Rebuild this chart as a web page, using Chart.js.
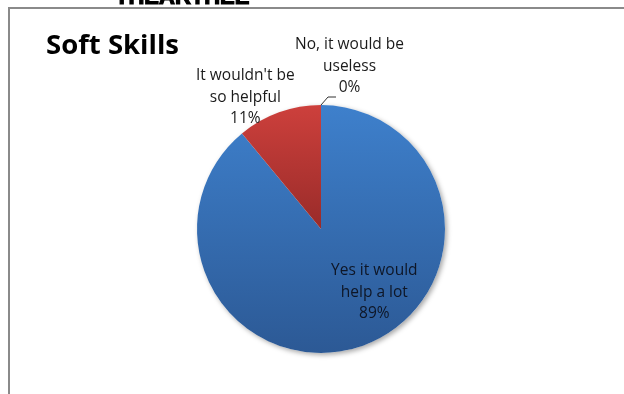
<!DOCTYPE html>
<html>
<head>
<meta charset="utf-8">
<script src="https://cdn.jsdelivr.net/npm/chart.js@4/dist/chart.umd.min.js"></script>
<style>
  html, body { margin: 0; padding: 0; background: #fff; }
  #wrap { position: relative; width: 624px; height: 394px; overflow: hidden; }
  #frame {
    position: absolute; left: 8px; top: 7px; right: -4px; bottom: -4px;
    border-left: 2px solid #8a8a8a; border-top: 2px solid #8a8a8a;
  }
  #chart { position: absolute; left: 0; top: 0; }
</style>
</head>
<body>
<div id="wrap">
  <div id="frame"></div>
  <canvas id="chart" width="624" height="394"></canvas>
</div>
<script>
const chartTitle = 'Soft Skills';
const pageHeading = 'THEARTHEE';
const categories = ['Yes it would help a lot', "It wouldn't be so helpful", 'No, it would be useless'];
const labelLines = [['Yes it would', 'help a lot'], ["It wouldn't be", 'so helpful'], ['No, it would be', 'useless']];
const shares = [89, 11, 0];

// where each data label sits, relative to the pie centre, in radius units
const labelSpots = [
  { dx: 0.43, dy: 0.51 },
  { dx: -0.61, dy: -1.06 },
  { dx: 0.23, dy: -1.31, leader: true },
];

const labelFont = '15.5px "Open Sans"';
const lineGap = 21.5;

function sliceFill(c) {
  const { ctx, chartArea } = c.chart;
  if (!chartArea) return c.dataIndex === 1 ? '#c0504d' : '#4f81bd';
  const top = chartArea.top;
  const bottom = chartArea.bottom;
  if (c.dataIndex === 1) {
    const g = ctx.createLinearGradient(0, top, 0, (top + bottom) / 2);
    g.addColorStop(0, '#cd403c');
    g.addColorStop(1, '#992b29');
    return g;
  }
  const g = ctx.createLinearGradient(0, top, 0, bottom);
  g.addColorStop(0, '#3e80cc');
  g.addColorStop(1, '#2c5995');
  return g;
}

// soft drop shadow under the whole pie
const pieShadow = {
  id: 'pieShadow',
  beforeDatasetsDraw(chart) {
    const arc = chart.getDatasetMeta(0).data[0];
    if (!arc) return;
    const { ctx } = chart;
    ctx.save();
    ctx.shadowColor = 'rgba(0,0,0,0.35)';
    ctx.shadowBlur = 5;
    ctx.shadowOffsetX = 2;
    ctx.shadowOffsetY = 2;
    ctx.fillStyle = '#ffffff';
    ctx.beginPath();
    ctx.arc(arc.x, arc.y, arc.outerRadius, 0, Math.PI * 2);
    ctx.fill();
    ctx.restore();
  },
};

const textLayer = {
  id: 'textLayer',
  afterDraw(chart) {
    const { ctx } = chart;
    const meta = chart.getDatasetMeta(0);
    ctx.save();

    // heading above the frame, mostly cut off by the page edge
    ctx.fillStyle = '#000';
    ctx.strokeStyle = '#000';
    ctx.lineWidth = 1.2;
    ctx.font = 'bold 22px "Liberation Sans"';
    ctx.textAlign = 'left';
    ctx.textBaseline = 'alphabetic';
    ctx.fillText(pageHeading, 115, 4);
    ctx.strokeText(pageHeading, 115, 4);

    ctx.font = 'bold 27.5px "Open Sans"';
    ctx.fillText(chartTitle, 46, 54);

    ctx.font = labelFont;
    ctx.textAlign = 'center';
    ctx.textBaseline = 'middle';
    meta.data.forEach((arc, i) => {
      const spot = labelSpots[i];
      const r = arc.outerRadius;
      const x = arc.x + spot.dx * r;
      const y = arc.y + spot.dy * r;
      const lines = labelLines[i].concat([shares[i] + '%']);
      ctx.fillStyle = i === 0 ? '#0e1626' : '#1a1a1a';
      lines.forEach((t, k) => {
        ctx.fillText(t, x, y + (k - (lines.length - 1) / 2) * lineGap);
      });
      if (spot.leader) {
        const mid = (arc.startAngle + arc.endAngle) / 2;
        const sx = arc.x + Math.cos(mid) * r;
        const sy = arc.y + Math.sin(mid) * r;
        ctx.strokeStyle = '#333';
        ctx.lineWidth = 1;
        ctx.beginPath();
        ctx.moveTo(sx, sy);
        ctx.lineTo(sx + 7, sy - 8);
        ctx.lineTo(sx + 15, sy - 8);
        ctx.stroke();
      }
    });
    ctx.restore();
  },
};

new Chart(document.getElementById('chart'), {
  type: 'pie',
  data: {
    labels: categories,
    datasets: [{
      data: shares,
      backgroundColor: sliceFill,
      borderWidth: 0,
    }],
  },
  options: {
    responsive: false,
    animation: false,
    devicePixelRatio: 1,
    layout: { padding: { left: 197, right: 179, top: 105, bottom: 41 } },
    plugins: {
      legend: { display: false },
      tooltip: { enabled: false },
    },
  },
  plugins: [pieShadow, textLayer],
});
</script>
</body>
</html>
